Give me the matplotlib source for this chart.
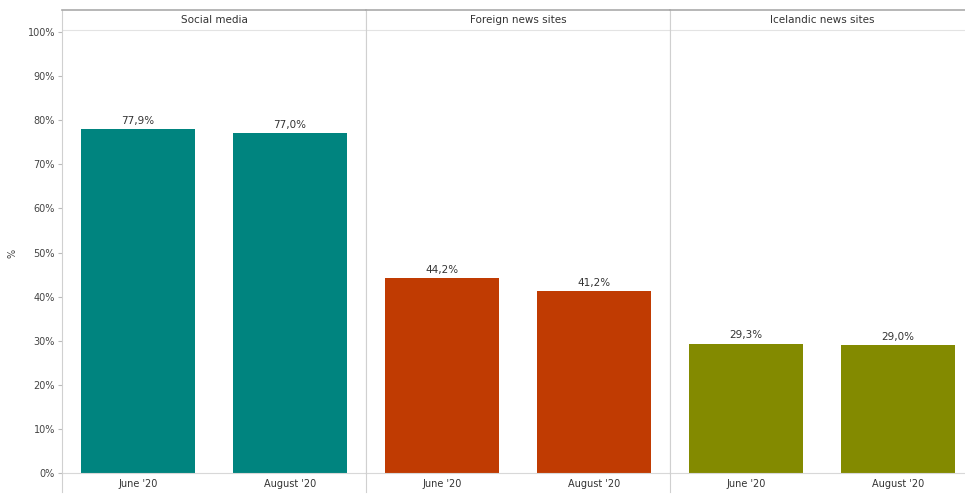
import matplotlib.pyplot as plt
from matplotlib.lines import Line2D

panels = ["Social media", "Foreign news sites", "Icelandic news sites"]
periods = ["June '20", "August '20"]
social = [77.9, 77.0]
foreign = [44.2, 41.2]
icelandic = [29.3, 29.0]
colors = ["#00847f", "#c03b02", "#838a00"]

values = [social, foreign, icelandic]

fig = plt.figure(figsize=(9.65, 4.95), dpi=100)
# the rightmost panel runs past the edge of the picture, as in the original
left, right, bottom, top = 62 / 965, 974 / 965, 22 / 495, 485 / 495
w = (right - left) / 3
axes = [fig.add_axes([left + i * w, bottom, w, top - bottom]) for i in range(3)]

for i, ax in enumerate(axes):
    bars = ax.bar(range(len(periods)), values[i], width=0.75, color=colors[i])
    for b, v in zip(bars, values[i]):
        ax.text(b.get_x() + b.get_width() / 2, v + 0.8, ("%.1f%%" % v).replace(".", ","),
                ha="center", va="bottom", fontsize=7.5, color="#333333")
    ax.set_xlim(-0.5, 1.5)
    ax.set_ylim(0, 105)
    ax.set_xticks(range(len(periods)))
    ax.set_xticklabels(periods, fontsize=7, color="#333333")
    ax.tick_params(axis="x", length=0, pad=4)
    ax.axhline(100.5, color="#e3e3e3", lw=0.8)
    ax.text(0.5, 102.7, panels[i], ha="center", va="center", fontsize=7.5, color="#333333")
    for s in ["left", "right"]:
        ax.spines[s].set_color("#d0d0d0")
        ax.spines[s].set_linewidth(0.8)
    ax.spines["top"].set_color("#aaaaaa")
    ax.spines["top"].set_linewidth(1.2)
    ax.spines["bottom"].set_color("#d8d8d8")
    ax.spines["bottom"].set_linewidth(0.8)
    if i == 0:
        ax.set_yticks(range(0, 101, 10))
        ax.set_yticklabels(["%d%%" % t for t in range(0, 101, 10)], fontsize=7, color="#444444")
        ax.tick_params(axis="y", length=3, color="#bbbbbb", pad=2)
        ax.set_ylabel("%", fontsize=7, color="#444444")
        ax.yaxis.set_label_coords(-44 / 304, 0.475)
    else:
        ax.set_yticks([])

# divider lines running below the axes
for i in range(3):
    x = left + i * w
    fig.add_artist(Line2D([x, x], [3 / 495, bottom], color="#d0d0d0", lw=0.8))

fig.savefig("out.png", dpi=100)
